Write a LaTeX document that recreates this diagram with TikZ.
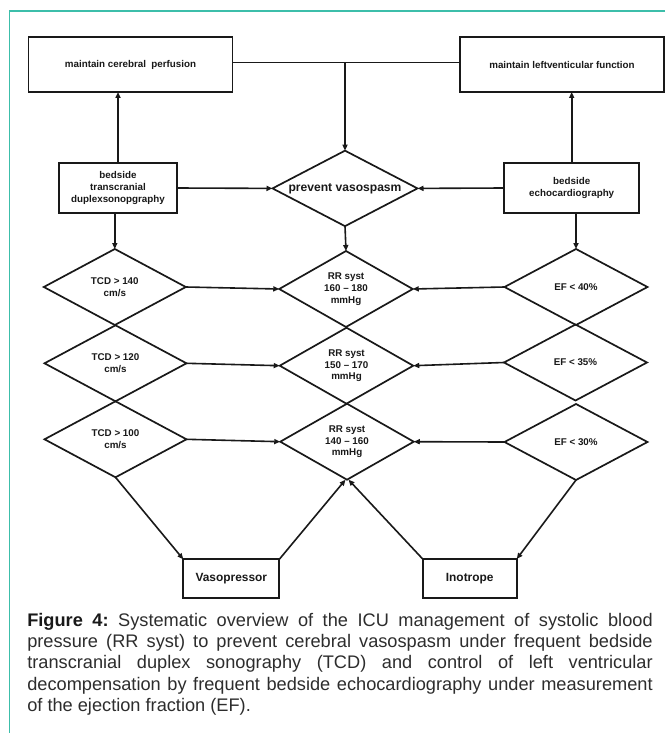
\documentclass[tikz,border=0pt]{standalone}
\usepackage{fontspec}
\setmainfont{Liberation Sans}
\usetikzlibrary{arrows.meta,shapes.geometric}
\definecolor{frameteal}{RGB}{60,190,170}
\definecolor{captext}{RGB}{45,45,45}
\definecolor{ink}{RGB}{25,25,25}
\frenchspacing
\begin{document}
\begin{tikzpicture}[x=1pt,y=-1pt,
  box/.style={draw=ink, line width=1.8pt, rectangle, inner sep=0pt, outer sep=0pt, align=center, text=ink,
    font=\fontsize{9.8}{12.2}\selectfont\bfseries},
  dia/.style={draw=ink, line width=1.7pt, diamond, shape aspect=1.9, inner sep=0pt, outer sep=0pt, align=center, text=ink,
    font=\fontsize{9.8}{11.8}\selectfont\bfseries},
  arr/.style={draw=ink, line width=1.6pt, -{Triangle[length=6pt,width=5pt]}},
  con/.style={draw=ink, line width=1.6pt},
  capline/.style={anchor=base west, inner sep=0pt, outer sep=0pt, text=captext,
    font=\fontsize{18.2}{21.3}\selectfont}]
\useasboundingbox (0,0) rectangle (665,733);
\fill[white] (0,0) rectangle (665,733);
% frame
\draw[frameteal, line width=1.5pt] (665,11) -- (9.5,11) -- (9.5,733);

% top boxes
\node[box, minimum width=204pt, minimum height=55pt] (cer) at (130.5,64.5) {maintain cerebral\ \ perfusion};
\node[box, minimum width=204pt, minimum height=55pt] (lvf) at (562,64.5) {maintain leftventicular function};

% second row
\node[box, minimum width=118pt, minimum height=49.4pt] (tcdbox) at (118,188) {bedside\\transcranial\\duplexsonopgraphy};
\node[box, minimum width=134.7pt, minimum height=49.4pt] (echobox) at (571.7,188) {bedside\\echocardiography};
\node[dia, minimum width=145pt, minimum height=75.5pt, font=\fontsize{12.1}{14}\selectfont\bfseries] (prev) at (345,188.4) {prevent vasospasm};

% diamond grid
\node[dia, minimum width=142pt, minimum height=76pt] (tcd1) at (114.8,287) {TCD > 140\\cm/s};
\node[dia, minimum width=142pt, minimum height=76pt] (tcd2) at (115.5,363.3) {TCD > 120\\cm/s};
\node[dia, minimum width=142pt, minimum height=76pt] (tcd3) at (115.5,439.3) {TCD > 100\\cm/s};

\node[dia, minimum width=133.5pt, minimum height=76pt] (rr1) at (346,289) {RR syst\\160 – 180\\mmHg};
\node[dia, minimum width=133.5pt, minimum height=76pt] (rr2) at (346.5,365.7) {RR syst\\150 – 170\\mmHg};
\node[dia, minimum width=133.5pt, minimum height=76pt] (rr3) at (347,441.7) {RR syst\\140 – 160\\mmHg};

\node[dia, minimum width=143pt, minimum height=76pt] (ef1) at (576,287) {EF < 40\%};
\node[dia, minimum width=143pt, minimum height=76pt] (ef2) at (575.5,362.5) {EF < 35\%};
\node[dia, minimum width=143pt, minimum height=76pt] (ef3) at (576,442) {EF < 30\%};

% bottom boxes
\node[box, minimum width=96pt, minimum height=38.4pt, font=\fontsize{11.9}{14}\selectfont\bfseries] (vaso) at (231.3,578.5) {Vasopressor};
\node[box, minimum width=94pt, minimum height=39pt, font=\fontsize{11.9}{14}\selectfont\bfseries] (ino) at (469.7,578.5) {Inotrope};

% connectors top
\coordinate (j) at (345,62.5);
\draw[con] (cer.east |- j) -- (lvf.west |- j);
\draw[arr] (j) -- (prev.north);
\draw[arr] (tcdbox.north) -- (tcdbox.north |- cer.south);
\draw[arr] (echobox.north) -- (echobox.north |- lvf.south);
\draw[arr] (tcdbox.east) -- (prev.west);
\draw[arr] (echobox.west) -- (prev.east);
\draw[arr] (tcd1.north |- tcdbox.south) -- (tcd1.north);
\draw[arr] (prev.south) -- (rr1.north);
\draw[arr] (ef1.north |- echobox.south) -- (ef1.north);

% rows
\draw[arr] (tcd1.east) -- (rr1.west);
\draw[arr] (tcd2.east) -- (rr2.west);
\draw[arr] (tcd3.east) -- (rr3.west);
\draw[arr] (ef1.west) -- (rr1.east);
\draw[arr] (ef2.west) -- (rr2.east);
\draw[arr] (ef3.west) -- (rr3.east);

% bottom
\draw[arr] (tcd3.south) -- (vaso.north west);
\draw[arr] (vaso.north east) -- ([xshift=-1.5pt]rr3.south);
\draw[arr] (ino.north west) -- ([xshift=1.5pt]rr3.south);
\draw[arr] (ef3.south) -- (ino.north east);

% caption
\node[capline] (c1) at (27.3,626.2) {\hbox to 625.4pt{{\color{ink}\bfseries Figure 4:} Systematic overview of the ICU management of systolic blood}};
\node[capline] (c2) at (27.3,647.4) {\hbox to 625.4pt{pressure (RR syst) to prevent cerebral vasospasm under frequent bedside}};
\node[capline] (c3) at (27.3,668.8) {\hbox to 625.4pt{transcranial duplex sonography (TCD) and control of left ventricular}};
\node[capline] (c4) at (27.3,690.3) {\hbox to 625.4pt{decompensation by frequent bedside echocardiography under measurement}};
\node[capline] (c5) at (27.3,711.5) {of the ejection fraction (EF).};
\end{tikzpicture}
\end{document}
